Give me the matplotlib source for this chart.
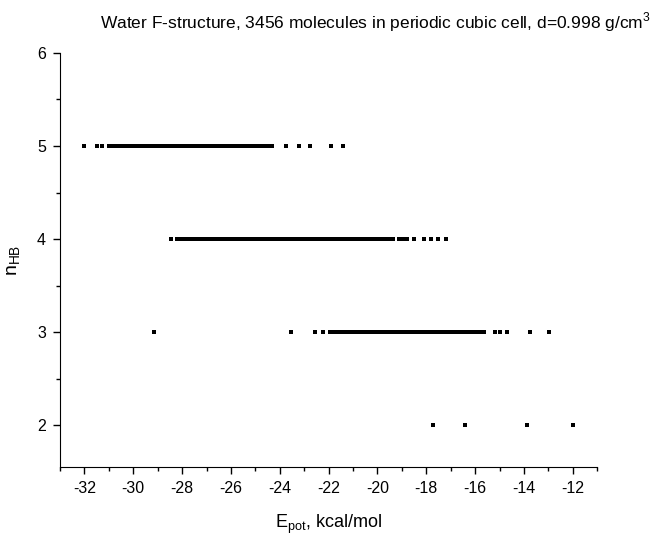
import numpy as np
import matplotlib
matplotlib.use("Agg")
import matplotlib.pyplot as plt
from matplotlib.ticker import MultipleLocator

plt.rcParams["font.family"] = ["Liberation Sans", "DejaVu Sans"]
plt.rcParams["axes.unicode_minus"] = False

# potential energy (kcal/mol) of molecules, grouped by number of H-bonds
e_n5 = [-32.0, -31.5, -31.27,
        -31.0, -30.9, -30.8, -30.7, -30.6, -30.5, -30.4, -30.3, -30.2, -30.1,
        -30.0, -29.9, -29.8, -29.7, -29.6, -29.5, -29.4, -29.3, -29.2, -29.1,
        -29.0, -28.9, -28.8, -28.7, -28.6, -28.5, -28.4, -28.3, -28.2, -28.1,
        -28.0, -27.9, -27.8, -27.7, -27.6, -27.5, -27.4, -27.3, -27.2, -27.1,
        -27.0, -26.9, -26.8, -26.7, -26.6, -26.5, -26.4, -26.3, -26.2, -26.1,
        -26.0, -25.9, -25.8, -25.7, -25.6, -25.5, -25.4, -25.3, -25.2, -25.1,
        -25.0, -24.9, -24.8, -24.7, -24.6, -24.5,
        -24.3, -23.73, -23.2, -22.78, -21.9, -21.4]
e_n4 = [-28.45, -28.2,
        -28.05, -27.95, -27.85, -27.75, -27.65, -27.55, -27.45, -27.35, -27.25, -27.15,
        -27.05, -26.95, -26.85, -26.75, -26.65, -26.55, -26.45, -26.35, -26.25, -26.15,
        -26.05, -25.95, -25.85, -25.75, -25.65, -25.55, -25.45, -25.35, -25.25, -25.15,
        -25.05, -24.95, -24.85, -24.75, -24.65, -24.55, -24.45, -24.35, -24.25, -24.15,
        -24.05, -23.95, -23.85, -23.75, -23.65, -23.55, -23.45, -23.35, -23.25, -23.15,
        -23.05, -22.95, -22.85, -22.75, -22.65, -22.55, -22.45, -22.35, -22.25, -22.15,
        -22.05, -21.95, -21.85, -21.75, -21.65, -21.55, -21.45, -21.35, -21.25, -21.15,
        -21.05, -20.95, -20.85, -20.75, -20.65, -20.55, -20.45, -20.35, -20.25, -20.15,
        -20.05, -19.95, -19.85, -19.75, -19.65, -19.55, -19.45, -19.35,
        -19.1, -18.95, -18.8, -18.5, -18.1, -17.8, -17.5, -17.2]
e_n3 = [-29.13, -23.53, -22.55, -22.25,
        -21.95, -21.85, -21.75, -21.65, -21.55, -21.45, -21.35, -21.25, -21.15,
        -21.05, -20.95, -20.85, -20.75, -20.65, -20.55, -20.45, -20.35, -20.25, -20.15,
        -20.05, -19.95, -19.85, -19.75, -19.65, -19.55, -19.45, -19.35, -19.25, -19.15,
        -19.05, -18.95, -18.85, -18.75, -18.65, -18.55, -18.45, -18.35, -18.25, -18.15,
        -18.05, -17.95, -17.85, -17.75, -17.65, -17.55, -17.45, -17.35, -17.25, -17.15,
        -17.05, -16.95, -16.85, -16.75, -16.65, -16.55, -16.45, -16.35, -16.25, -16.15,
        -16.05, -15.95, -15.85, -15.75, -15.65,
        -15.2, -15.0, -14.7, -13.76, -12.97]
e_n2 = [-17.74, -16.43, -13.89, -12.0]

groups = [(5, e_n5), (4, e_n4), (3, e_n3), (2, e_n2)]

fig = plt.figure(figsize=(6.52, 5.35), dpi=100)
ax = fig.add_axes([0.092, 0.127, 0.824, 0.774])

for n, e in groups:
    ax.plot(e, [n] * len(e), "s", color="black", markersize=3.5,
            markeredgewidth=0, linestyle="none")

ax.set_xlim(-33, -11)
ax.set_ylim(1.55, 6)
ax.xaxis.set_minor_locator(MultipleLocator(1))
ax.yaxis.set_minor_locator(MultipleLocator(0.5))
ax.set_xticks(np.arange(-32, -11, 2))
ax.set_yticks([2, 3, 4, 5, 6])

for side in ["top", "right"]:
    ax.spines[side].set_visible(False)

ax.tick_params(which="major", direction="out", length=5, width=1, labelsize=11.5, pad=5)
ax.tick_params(which="minor", direction="out", length=3, width=1)

ax.set_xlabel("E$_{\\mathregular{pot}}$, kcal/mol", fontsize=13, labelpad=12)
ax.set_ylabel("n$_{\\mathregular{HB}}$", fontsize=14, labelpad=10)

fig.text(0.153, 0.958, "Water F-structure, 3456 molecules in periodic cubic cell, d=0.998 g/cm$^{\\mathregular{3}}$",
         fontsize=12.5, ha="left", va="center")

fig.savefig("out.png", dpi=100)
